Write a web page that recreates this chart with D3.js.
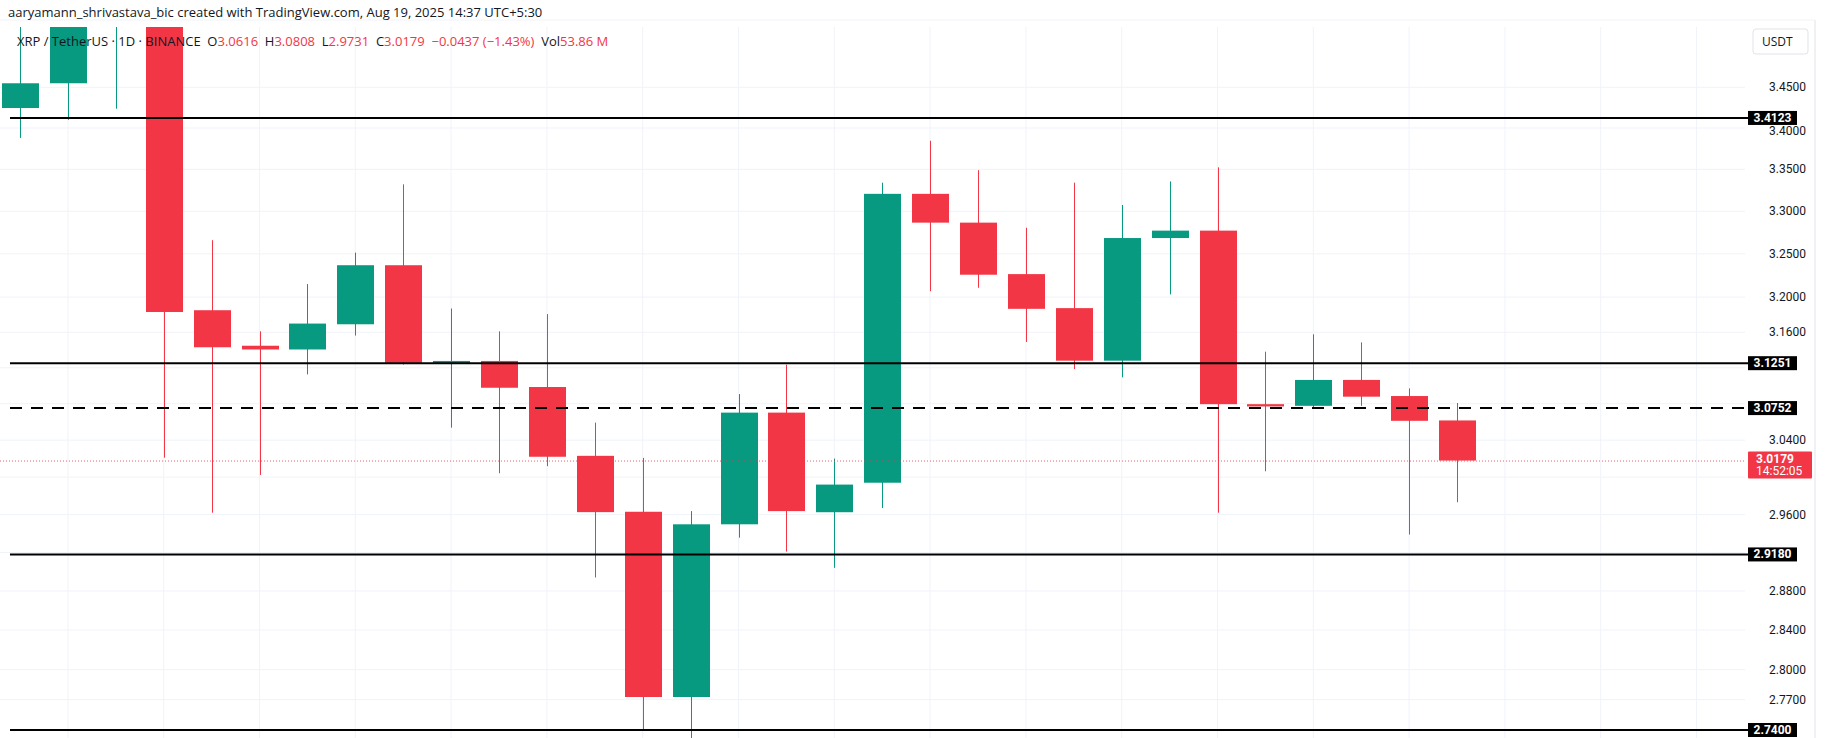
<!DOCTYPE html>
<html><head><meta charset="utf-8">
<script src="https://cdn.jsdelivr.net/npm/d3@7"></script>
<style>body{margin:0;background:#fff;font-family:"Open Sans",Roboto,sans-serif}</style>
</head><body><svg id="c" width="1825" height="738"></svg>
<script>
const opens  = [3.4245,3.455,3.57,3.60,3.185,3.1447,3.1405,3.169,3.2368,3.1255,3.1276,3.0985,3.023,2.963,2.7726,2.9497,3.0702,2.9625,2.994,3.3207,3.2866,3.2265,3.1874,3.1279,3.2685,3.2772,3.0795,3.0777,3.1064,3.0885,3.0616];
const highs  = [3.53,3.62,3.66,3.62,3.266,3.161,3.215,3.2515,3.332,3.187,3.161,3.1806,3.0592,3.0208,2.9637,3.0907,3.1233,3.020,3.334,3.3845,3.349,3.2806,3.334,3.3075,3.3355,3.3524,3.138,3.1576,3.1485,3.097,3.0808];
const lows   = [3.388,3.410,3.4236,3.021,2.962,3.0024,3.1126,3.1562,3.1236,3.0537,3.0042,3.0118,2.894,2.740,2.730,2.9356,2.921,2.904,2.967,3.2068,3.2107,3.149,3.1185,3.1093,3.2032,2.962,3.0063,3.0744,3.0777,2.9389,2.9731];
const closes = [3.455,3.56,3.62,3.183,3.143,3.1405,3.1698,3.2368,3.1255,3.1276,3.0977,3.022,2.9626,2.7726,2.9497,3.0702,2.9637,2.992,3.3207,3.2866,3.2258,3.1866,3.1279,3.2685,3.2772,3.0795,3.077,3.1064,3.0878,3.0612,3.0179];
const tickValues = [3.45,3.40,3.35,3.30,3.25,3.20,3.16,3.04,2.96,2.88,2.84,2.80,2.77];
const levels = [3.4123,3.1251,3.0752,2.918,2.74];
const dashedLevel = 3.0752;
const lastPrice = 3.0179, countdown = "14:52:05";

const svg = d3.select("#c");
const plotL = 0, plotR = 1745, plotT = 27, plotB = 738;
const y = d3.scaleLog().domain([2.74,3.45]).range([730,87.3]);
const x = d3.scaleLinear().domain([0,1]).range([20,67.9]);
const up="#089981", dn="#f23645";

svg.append("defs").append("clipPath").attr("id","pc").append("rect")
 .attr("x",plotL).attr("y",plotT).attr("width",plotR-plotL).attr("height",plotB-plotT);
const g = svg.append("g").attr("clip-path","url(#pc)");

// grid
const vg = d3.range(1,40,2);
g.selectAll(".vg").data(vg).join("line").attr("x1",d=>x(d)).attr("x2",d=>x(d))
 .attr("y1",plotT).attr("y2",plotB).attr("stroke","#f0f3fa").attr("stroke-width",1);
g.selectAll(".hg").data(tickValues.concat([3.12,3.08,3.0,2.92])).join("line").attr("x1",plotL).attr("x2",1815)
 .attr("y1",d=>y(d)).attr("y2",d=>y(d)).attr("stroke","#f0f3fa");

// candles
const idx = d3.range(opens.length);
g.selectAll(".w").data(idx).join("line")
 .attr("x1",i=>Math.round(x(i))+0.5).attr("x2",i=>Math.round(x(i))+0.5)
 .attr("y1",i=>y(highs[i])).attr("y2",i=>y(lows[i]))
 .attr("stroke",i=>closes[i]>=opens[i]?up:dn).attr("stroke-width",1);
g.selectAll(".b").data(idx).join("rect")
 .attr("x",i=>Math.round(x(i))-18).attr("width",37)
 .attr("y",i=>y(Math.max(opens[i],closes[i])))
 .attr("height",i=>Math.max(2,y(Math.min(opens[i],closes[i]))-y(Math.max(opens[i],closes[i]))))
 .attr("fill",i=>closes[i]>=opens[i]?up:dn);

// last price dotted line
svg.append("line").attr("x1",0).attr("x2",plotR).attr("y1",y(lastPrice)+0.5).attr("y2",y(lastPrice)+0.5)
 .attr("stroke",dn).attr("stroke-width",1).attr("stroke-dasharray","1,2").attr("opacity",0.8);

// levels
svg.selectAll(".lv").data(levels).join("line").attr("x1",10).attr("x2",plotR+3)
 .attr("y1",d=>y(d)).attr("y2",d=>y(d)).attr("stroke","#000").attr("stroke-width",2)
 .attr("stroke-dasharray",d=>d===dashedLevel?"12,9":null);

// axis
const ax = svg.append("g");
ax.selectAll("text").data(tickValues).join("text").attr("x",1769).attr("y",d=>y(d)+4+(d===3.40?3:0))
 .attr("font-size",12).attr("fill","#131722").attr("font-family","Roboto,sans-serif").text(d=>d.toFixed(4));
const lb = svg.selectAll(".lb").data(levels).join("g").attr("transform",d=>`translate(1748,${y(d)-7})`);
lb.append("rect").attr("width",49).attr("height",14).attr("fill","#000");
lb.append("text").attr("x",24.5).attr("y",11).attr("text-anchor","middle").attr("fill","#fff")
 .attr("font-size",12).attr("font-weight","bold").attr("font-family","Roboto,sans-serif").text(d=>d.toFixed(4));
const pl = svg.append("g").attr("transform",`translate(1748,${y(lastPrice)-9})`);
pl.append("rect").attr("width",64).attr("height",27).attr("rx",1).attr("fill",dn);
pl.append("text").attr("x",8).attr("y",11).attr("fill","#fff").attr("font-size",12).attr("font-weight","bold").attr("font-family","Roboto,sans-serif").text(lastPrice.toFixed(4));
pl.append("text").attr("x",8).attr("y",23).attr("fill","#fff").attr("font-size",12).attr("font-family","Roboto,sans-serif").text(countdown);

// USDT button
svg.append("rect").attr("x",1753).attr("y",29).attr("width",55).attr("height",25).attr("rx",3)
 .attr("fill","#fff").attr("stroke","#e0e3eb");
svg.append("text").attr("x",1762).attr("y",46).attr("font-size",12).attr("fill","#131722").text("USDT");
svg.append("line").attr("x1",1815).attr("x2",1815).attr("y1",20).attr("y2",738).attr("stroke","#e0e3eb");
svg.append("line").attr("x1",0).attr("x2",1815).attr("y1",20).attr("y2",20).attr("stroke","#f0f3fa");

// header
svg.append("text").attr("x",8).attr("y",17).attr("font-size",13).attr("fill","#131722").text("aaryamann_shrivastava_bic created with TradingView.com, Aug 19, 2025 14:37 UTC+5:30");
const leg = svg.append("text").attr("x",17).attr("y",46).attr("font-size",13).attr("fill","#131722").attr("style","white-space:pre");
[["XRP / TetherUS · 1D · BINANCE  ","#131722"],["O","#131722"],["3.0616  ",dn],["H","#131722"],["3.0808  ",dn],["L","#131722"],["2.9731  ",dn],["C","#131722"],["3.0179  −0.0437 (−1.43%)  ",dn],["Vol","#131722"],["53.86 M",dn]]
.forEach(([t,c])=>leg.append("tspan").attr("fill",c).text(t));
</script></body></html>
